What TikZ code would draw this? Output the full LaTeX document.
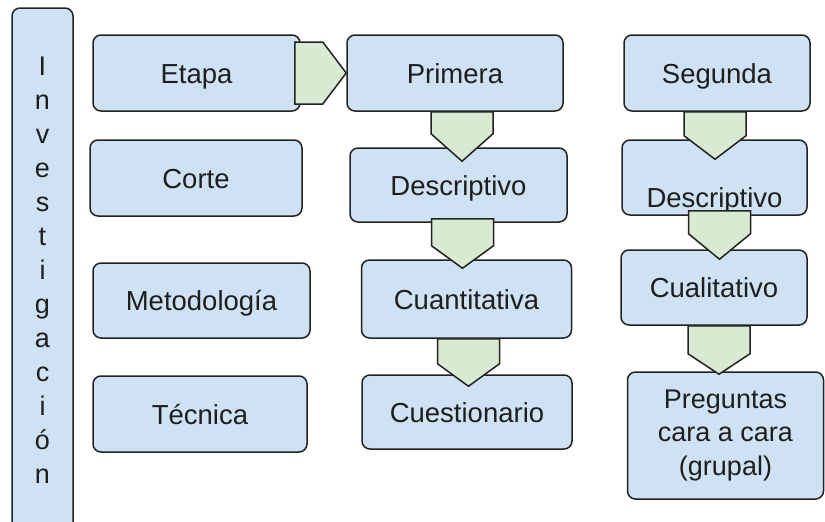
\documentclass[tikz,border=0pt]{standalone}
\usepackage{fontspec}
\setmainfont{Liberation Sans}
\usetikzlibrary{calc}
\definecolor{azulcaja}{HTML}{CFE2F3}
\definecolor{verdeflecha}{HTML}{D9EAD3}
\definecolor{borde}{HTML}{222222}
\definecolor{letra}{HTML}{1E1E1E}
\tikzset{
    caja/.style={
        rectangle,
        draw=borde,
        line width=1.5pt,
        fill=azulcaja,
        text=letra,
        rounded corners=8pt,
        minimum height=76pt,
        inner sep=2pt,
        text height=26pt,
        text depth=6pt,
        align=center,
        font=\fontsize{27.5pt}{33.5pt}\selectfont
    },
    cajaalta/.style={
        caja,
        text height=,
        text depth=,
        font=\fontsize{27pt}{34pt}\selectfont
    },
    cajalineas/.style={
        caja,
        text height=,
        text depth=,
        font=\fontsize{27pt}{33.5pt}\selectfont
    },
    flecha/.style={
        draw=borde,
        line width=1.5pt,
        fill=verdeflecha
    }
}

\begin{document}
\begin{tikzpicture}[x=1pt, y=-1pt]
    \useasboundingbox (0,0) rectangle (825,522);

    \node[cajaalta, minimum width=61pt, minimum height=524pt] (investigacion) at (42.5,270) {I\\n\\v\\e\\s\\t\\i\\g\\a\\c\\i\\ó\\n};

    \node[caja, minimum width=207pt] (etapa) at (196.5,73) {Etapa};
    \node[caja, minimum width=212pt] (corte) at (196,178) {Corte};
    \node[caja, minimum width=217pt, minimum height=75pt] (metodologia) at (201.5,300.5) {Metodología};
    \node[caja, minimum width=214pt] (tecnica) at (200,414) {Técnica};

    \node[caja, minimum width=216pt] (primera) at (455,73) {Primera};
    \node[caja, minimum width=217pt, minimum height=74pt] (descuno) at (458.5,185) {Descriptivo};
    \node[caja, minimum width=210pt, minimum height=78pt] (cuantitativa) at (466.5,299) {Cuantitativa};
    \node[caja, minimum width=210pt, minimum height=74pt] (cuestionario) at (467,412) {Cuestionario};

    \node[caja, minimum width=186pt] (segunda) at (717,73) {Segunda};
    \node[caja, minimum width=185pt, minimum height=75pt, text height=65pt, text depth=6pt] (descdos) at (714.5,177.5) {Descriptivo};
    \node[caja, minimum width=186pt, minimum height=75pt] (cualitativo) at (714,287.5) {Cualitativo};
    \node[cajalineas, minimum width=196pt, minimum height=127pt] (preguntas) at (725.5,435.5) {Preguntas\\cara a cara\\(grupal)};

    \draw[flecha] ($(etapa.east)+(-6,-31)$) -- ++(28,0) -- (primera.west) -- ($(etapa.east)+(22,31)$) -- ++(-28,0) -- cycle;

    \draw[flecha] ($(primera.south)+(-24,0)$) -- ++(0,22) -- ($(primera.south |- descuno.north)+(7,14)$) -- ($(primera.south)+(38,22)$) -- ++(0,-22) -- cycle;
    \draw[flecha] ($(descuno.south)+(-27,-4)$) -- ++(0,27) -- ($(descuno.south |- cuantitativa.north)+(4,9)$) -- ($(descuno.south)+(35,23)$) -- ++(0,-27) -- cycle;
    \draw[flecha] ($(cuantitativa.south)+(-29,0)$) -- ++(0,25) -- ($(cuantitativa.south |- cuestionario.north)+(2,12)$) -- ($(cuantitativa.south)+(33,25)$) -- ++(0,-25) -- cycle;

    \draw[flecha] ($(segunda.south)+(-33,0)$) -- ++(0,24) -- ($(segunda.south |- descdos.north)+(-2,20)$) -- ($(segunda.south)+(29,24)$) -- ++(0,-24) -- cycle;
    \draw[flecha] ($(descdos.south)+(-26,-5)$) -- ++(0,23) -- ($(descdos.south |- cualitativo.north)+(5,10)$) -- ($(descdos.south)+(36,18)$) -- ++(0,-23) -- cycle;
    \draw[flecha] ($(cualitativo.south)+(-26,0)$) -- ++(0,28) -- ($(cualitativo.south |- preguntas.north)+(5,3)$) -- ($(cualitativo.south)+(36,28)$) -- ++(0,-28) -- cycle;

\end{tikzpicture}
\end{document}
